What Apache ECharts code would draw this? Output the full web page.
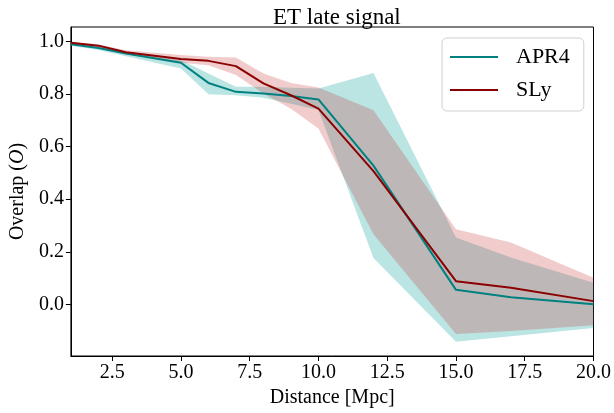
<!DOCTYPE html>
<html><head><meta charset="utf-8">
<script src="https://cdn.jsdelivr.net/npm/echarts@6/dist/echarts.min.js"></script>
<style>html,body{margin:0;padding:0;background:#fff}#c{width:614px;height:413px}</style>
</head><body><div id="c"></div>
<script>
const distances = [1, 2, 3, 5, 6, 7, 8, 9, 10, 12, 15, 17, 20];
const apr4Mean = [0.990, 0.976, 0.955, 0.920, 0.843, 0.809, 0.803, 0.793, 0.780, 0.528, 0.055, 0.027, 0.000];
const apr4Low  = [0.985, 0.968, 0.945, 0.898, 0.800, 0.796, 0.787, 0.764, 0.740, 0.176, -0.143, -0.122, -0.090];
const apr4High = [0.995, 0.982, 0.962, 0.930, 0.879, 0.828, 0.828, 0.825, 0.822, 0.881, 0.254, 0.178, 0.082];
const slyMean  = [0.996, 0.985, 0.960, 0.934, 0.927, 0.907, 0.841, 0.796, 0.745, 0.507, 0.088, 0.063, 0.012];
const slyLow   = [0.990, 0.978, 0.952, 0.920, 0.910, 0.873, 0.803, 0.745, 0.669, 0.267, -0.113, -0.102, -0.080];
const slyHigh  = [1.000, 0.990, 0.967, 0.949, 0.943, 0.940, 0.879, 0.843, 0.826, 0.739, 0.286, 0.235, 0.101];
const xTicks = [2.5, 5, 7.5, 10, 12.5, 15, 17.5, 20];
const yTicks = [0, 0.2, 0.4, 0.6, 0.8, 1.0];

const FONT = 'Liberation Serif';
const pairs = (ys) => distances.map((d, i) => [d, ys[i]]);

function band(lo, hi, color, z) {
  return {
    type: 'custom', silent: true, z: z,
    data: distances.map((d, i) => [d, lo[i], hi[i]]),
    encode: { x: 0, y: [1, 2] },
    renderItem: function (params, api) {
      if (params.dataIndex !== 0) return null;
      const pts = [];
      for (let i = 0; i < distances.length; i++) pts.push(api.coord([distances[i], hi[i]]));
      for (let i = distances.length - 1; i >= 0; i--) pts.push(api.coord([distances[i], lo[i]]));
      return { type: 'polygon', shape: { points: pts }, style: { fill: color, stroke: null } };
    }
  };
}

const chart = echarts.init(document.getElementById('c'), null, { renderer: 'canvas' });
chart.setOption({
  animation: false,
  backgroundColor: '#fff',
  title: { text: 'ET late signal', left: 268, top: 1,
    textStyle: { fontFamily: FONT, fontSize: 23, fontWeight: 'normal', color: '#000' } },
  grid: { left: 69, right: 18, top: 27, bottom: 57, show: true, borderColor: '#000', borderWidth: 1 },
  legend: {
    data: ['APR4', 'SLy'], orient: 'vertical', left: 442, top: 38,
    icon: 'rect', itemWidth: 48, itemHeight: 2, itemGap: 9,
    padding: [7, 14, 9, 8],
    borderColor: '#d0d0d0', borderWidth: 1, borderRadius: 5, backgroundColor: 'rgba(255,255,255,0.8)',
    textStyle: { fontFamily: FONT, fontSize: 22, color: '#000', lineHeight: 24, padding: [0, 0, 0, 13] }
  },
  xAxis: {
    type: 'value', min: 1, max: 20,
    name: 'Distance [Mpc]', nameLocation: 'middle', nameGap: 30,
    nameTextStyle: { fontFamily: FONT, fontSize: 20, color: '#000' },
    axisLine: { show: true, onZero: false, lineStyle: { color: '#000', width: 1 } },
    splitLine: { show: false },
    axisTick: { show: true, length: 5, lineStyle: { color: '#000' }, customValues: xTicks },
    axisLabel: { customValues: xTicks, formatter: v => v.toFixed(1), margin: 7,
      fontFamily: FONT, fontSize: 20, color: '#000' }
  },
  yAxis: {
    type: 'value', min: -0.197, max: 1.056,
    name: 'Overlap ({i|O})', nameLocation: 'middle', nameGap: 40, nameRotate: 90,
    nameTextStyle: { fontFamily: FONT, fontSize: 20, color: '#000',
      rich: { i: { fontFamily: FONT, fontSize: 20, fontStyle: 'italic', color: '#000' } } },
    axisLine: { show: true, onZero: false, lineStyle: { color: '#000', width: 1 } },
    splitLine: { show: false },
    axisTick: { show: true, length: 5, lineStyle: { color: '#000' }, customValues: yTicks },
    axisLabel: { customValues: yTicks, formatter: v => v.toFixed(1), margin: 7,
      fontFamily: FONT, fontSize: 20, color: '#000' }
  },
  series: [
    band(apr4Low, apr4High, 'rgba(0,160,150,0.27)', 1),
    band(slyLow, slyHigh, 'rgba(200,50,50,0.25)', 2),
    { name: 'APR4', type: 'line', data: pairs(apr4Mean), symbol: 'none', showSymbol: false,
      itemStyle: { color: '#008080' }, lineStyle: { color: '#008080', width: 2 }, z: 3 },
    { name: 'SLy', type: 'line', data: pairs(slyMean), symbol: 'none', showSymbol: false,
      itemStyle: { color: '#8b0000' }, lineStyle: { color: '#8b0000', width: 2 }, z: 4 }
  ]
});
</script></body></html>
